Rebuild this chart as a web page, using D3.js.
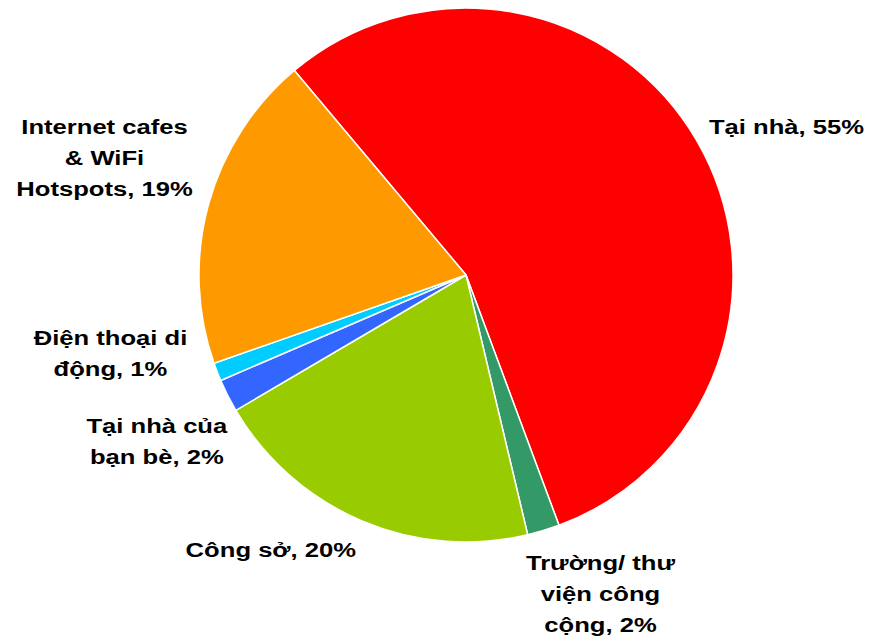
<!DOCTYPE html>
<html>
<head>
<meta charset="utf-8">
<script src="https://cdn.jsdelivr.net/npm/d3@7"></script>
<style>
  html, body { margin: 0; padding: 0; background: #fff; }
  svg { display: block; }
  .lbl { font-family: "Liberation Sans", Arial, sans-serif; font-weight: bold; font-size: 21px; fill: #000; }
</style>
</head>
<body>
<div id="chart"></div>
<script>
// Where people access the internet (share, %)
var categories = ["Tại nhà", "Trường/ thư\nviện công\ncộng", "Công sở", "Tại nhà của\nbạn bè", "Điện thoại di\nđộng", "Internet cafes\n& WiFi\nHotspots"];
var values = [55.45, 1.95, 20.25, 2.0, 1.1, 19.25];
var colors = ["#ff0000", "#339966", "#99cc00", "#3366ff", "#00ccff", "#ff9900"];

var param = {
    width: 888,
    height: 640,
    cx: 466,
    cy: 275,
    radius: 267,
    startDeg: -40,
    lineHeight: 31,
    capHeight: 15,
    stretch: 1.22
};

// label placement, relative to slice mid angle: [angle offset (deg), distance from centre]
var labelLayout = [[5.4, 353], [-6.0, 346], [12.3, 337], [-1.4, 351], [8.9, 364], [2.6, 380]];

var rad = Math.PI / 180;
var data = categories.map(function(c, i){ return {name: c, value: values[i], color: colors[i], i: i}; });

var svg = d3.select("#chart").append("svg")
    .attr("width", param.width)
    .attr("height", param.height);

var g = svg.append("g").attr("transform", "translate(" + param.cx + "," + param.cy + ")");

var pie = d3.pie()
    .sort(null)
    .value(function(d){ return d.value; })
    .startAngle(param.startDeg * rad)
    .endAngle((param.startDeg + 360) * rad);

var arc = d3.arc().innerRadius(0).outerRadius(param.radius);
var arcs = pie(data);

g.selectAll("path.slice")
    .data(arcs)
  .enter().append("path")
    .attr("class", "slice")
    .attr("d", arc)
    .attr("fill", function(d){ return d.data.color; })
    .attr("stroke", "#fff")
    .attr("stroke-width", 1.5)
    .attr("stroke-linejoin", "round");

var labels = g.selectAll("g.lbl")
    .data(arcs)
  .enter().append("g")
    .attr("class", "lbl")
    .attr("transform", function(d){
	var lay = labelLayout[d.data.i];
	var a = (d.startAngle + d.endAngle) / 2 + lay[0] * rad;
	var x = Math.sin(a) * lay[1];
	var y = -Math.cos(a) * lay[1];
	return "translate(" + x + "," + y + ") scale(" + param.stretch + ",1)";
    });

labels.append("text")
    .attr("class", "lbl")
    .attr("text-anchor", "middle")
    .each(function(d){
	var lines = d.data.name.split("\n");
	lines[lines.length - 1] += ", " + Math.round(d.data.value) + "%";
	var n = lines.length;
	var base1 = (param.capHeight - (n - 1) * param.lineHeight) / 2;
	var t = d3.select(this);
	lines.forEach(function(s, k){
	    t.append("tspan")
		.attr("x", 0)
		.attr("y", base1 + k * param.lineHeight)
		.text(s);
	});
    });
</script>
</body>
</html>
